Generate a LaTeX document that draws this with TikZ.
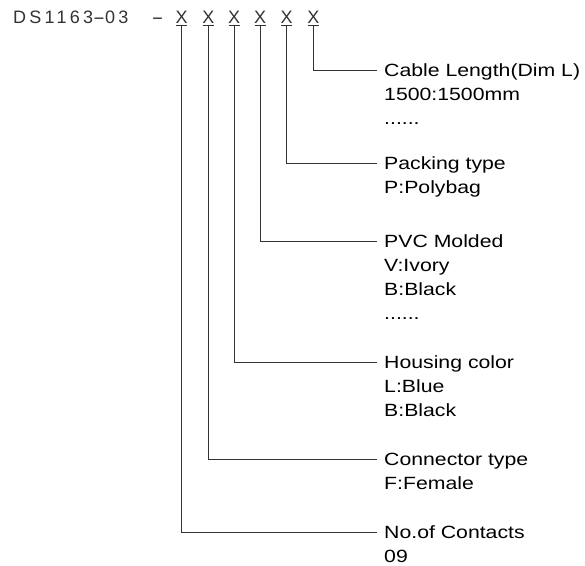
\documentclass[tikz,border=0pt]{standalone}
\usepackage{fontspec}
\usepackage{graphicx}
\setmainfont{Liberation Sans}[FakeStretch=1.2]
\newfontfamily\hdrfont{Liberation Sans}[LetterSpace=18]
\newfontfamily\xfont{Liberation Sans}
\newcommand{\widedash}{\scalebox{2}[1]{-}}
\begin{document}
\begin{tikzpicture}[x=1pt,y=-1pt,
  hdr/.style={font=\hdrfont\fontsize{18}{18}\selectfont, inner sep=0pt, text=black!80},
  xch/.style={font=\xfont\fontsize{18}{18}\selectfont, inner sep=0pt, anchor=base, text=black!80},
  lbl/.style={font=\fontsize{17.7}{24}\selectfont, inner sep=0pt, anchor=base west},
  conn/.style={draw=black!80, line width=0.75pt},
  uline/.style={draw=black!80, line width=0.7pt}]
\useasboundingbox (0,0) rectangle (585,565);
% header
\node[hdr, anchor=base west] (code) at (13,23) {DS1163\widedash03};
\node[xch] (dash) at (157.5,23) {\widedash};
\node[xch] (x1) at (181.7,23) {X};
\node[xch] (x2) at (208.3,23) {X};
\node[xch] (x3) at (234,23) {X};
\node[xch] (x4) at (260,23) {X};
\node[xch] (x5) at (286.7,23) {X};
\node[xch] (x6) at (313.3,23) {X};
\foreach \i in {1,...,6}{
  \draw[uline] ([xshift=-5.5pt,yshift=-2.5pt]x\i.base) -- ([xshift=5.5pt,yshift=-2.5pt]x\i.base);
}
% line end points
\coordinate (e6) at (377,70);
\coordinate (e5) at (377,163);
\coordinate (e4) at (377,241);
\coordinate (e3) at (377,362);
\coordinate (e2) at (377,459);
\coordinate (e1) at (377,532);
\foreach \i in {1,...,6}{
  \draw[conn] ([yshift=-2.5pt]x\i.base) |- (e\i);
}
% labels
\node[lbl] (cab1) at (384,76.5) {Cable Length(Dim L)};
\node[lbl] (cab2) at (384,100.5) {1500:1500mm};
\node[lbl] (cab3) at (384,124.5) {......};
\node[lbl] (pak1) at (384,169.5) {Packing type};
\node[lbl] (pak2) at (384,193.5) {P:Polybag};
\node[lbl] (pvc1) at (384,247.5) {PVC Molded};
\node[lbl] (pvc2) at (384,271.5) {V:Ivory};
\node[lbl] (pvc3) at (384,295.5) {B:Black};
\node[lbl] (pvc4) at (384,319.5) {......};
\node[lbl] (hou1) at (384,368.5) {Housing color};
\node[lbl] (hou2) at (384,392.5) {L:Blue};
\node[lbl] (hou3) at (384,416.5) {B:Black};
\node[lbl] (con1) at (384,465.5) {Connector type};
\node[lbl] (con2) at (384,489.5) {F:Female};
\node[lbl] (noc1) at (384,538.5) {No.of Contacts};
\node[lbl] (noc2) at (384,562.5) {09};
\end{tikzpicture}
\end{document}
